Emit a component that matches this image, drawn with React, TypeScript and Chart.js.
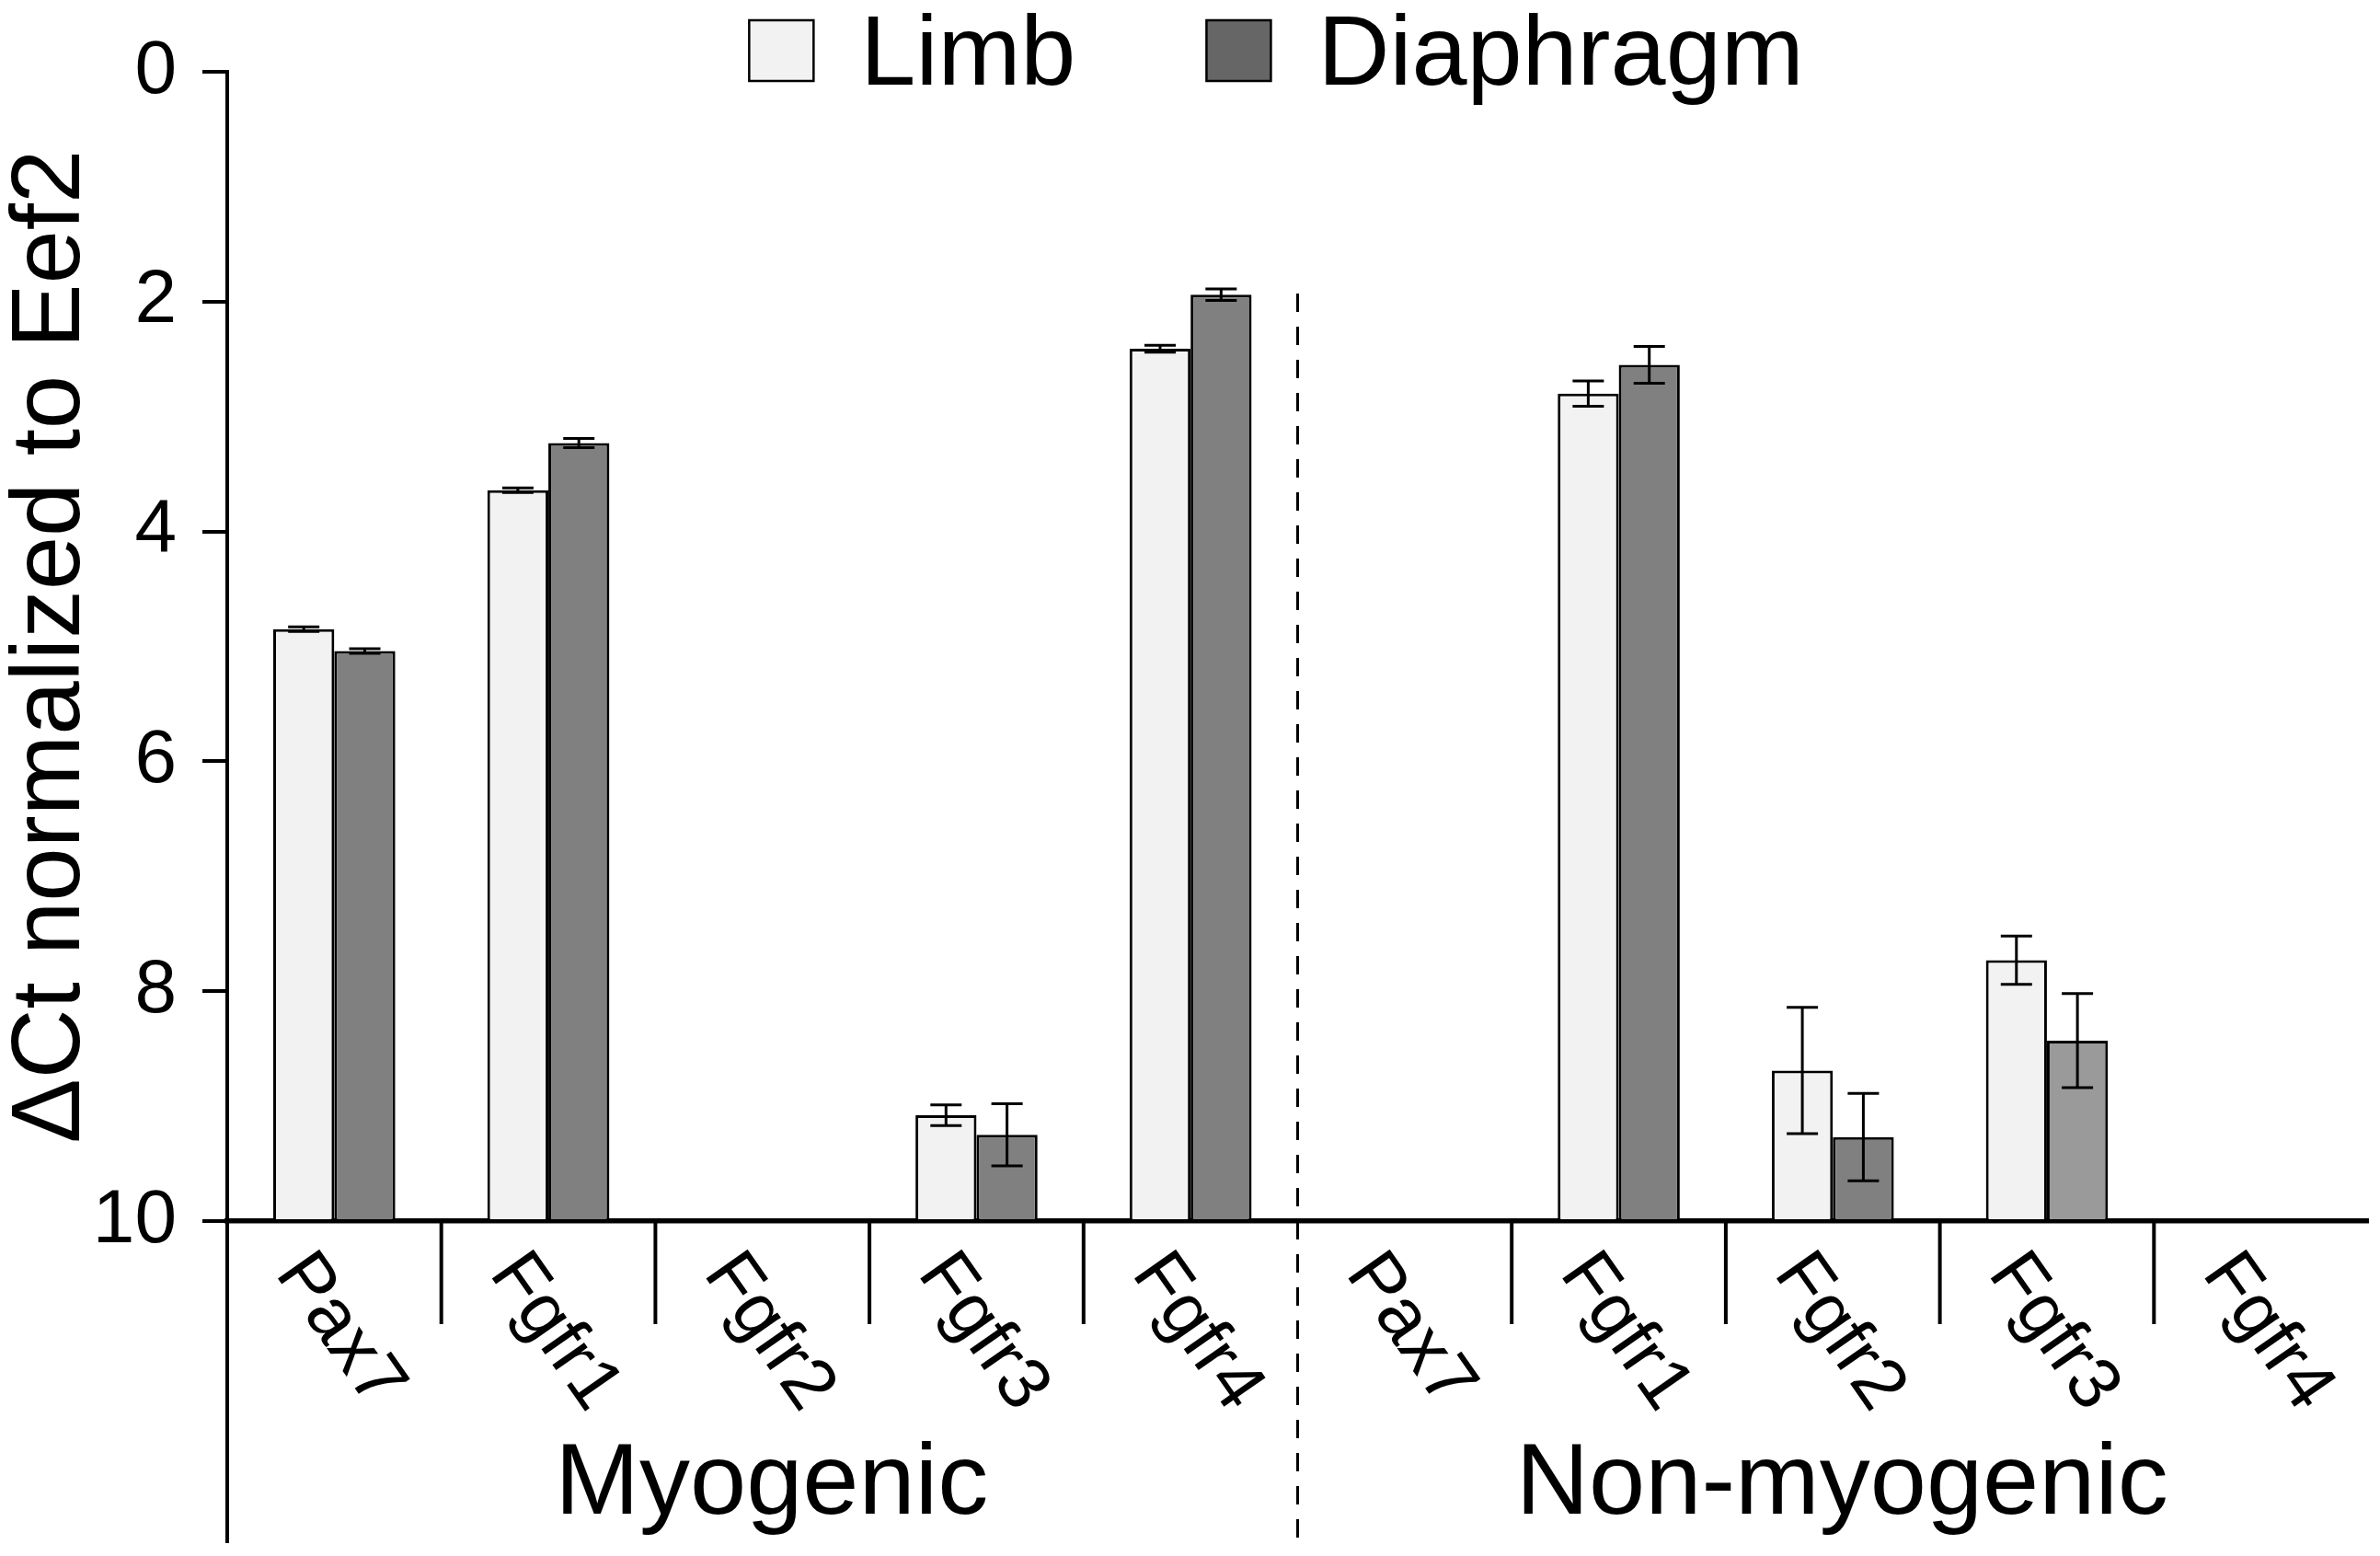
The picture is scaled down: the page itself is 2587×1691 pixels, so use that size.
import { useEffect, useRef } from "react";
import { Chart, registerables } from "chart.js";

Chart.register(...registerables);

const categories = ["Pax7", "Fgfr1", "Fgfr2", "Fgfr3", "Fgfr4", "Pax7", "Fgfr1", "Fgfr2", "Fgfr3", "Fgfr4"];
const groups = ["Myogenic", "Non-myogenic"];
const seriesNames = ["Limb", "Diaphragm"];

// ΔCt means and error (axis is reversed, 0 at the top)
const limbValues = [4.85, 3.64, null, 9.08, 2.41, null, 2.8, 8.69, 7.73, null];
const limbErrors = [0.02, 0.02, null, 0.09, 0.03, null, 0.11, 0.55, 0.21, null];
const diaphragmValues = [5.04, 3.23, null, 9.25, 1.94, null, 2.55, 9.27, 8.43, null];
const diaphragmErrors = [0.02, 0.04, null, 0.27, 0.05, null, 0.16, 0.38, 0.41, null];

const yMin = 0;
const yMax = 10;
const yStep = 2;

const FONT = "'Liberation Sans', Arial, Helvetica, sans-serif";
const limbColor = "#f2f2f2";
const diaphragmColor = "#808080";
const diaphragmColors = diaphragmValues.map((_, i) => (i === 8 ? "#9a9a9a" : diaphragmColor));
const legendColors = [limbColor, "#666666"];

const decorations = {
  id: "decorations",
  afterDatasetsDraw(chart: any) {
    const ctx = chart.ctx;
    const y = chart.scales.y;
    const errors = [limbErrors, diaphragmErrors];
    ctx.save();
    ctx.strokeStyle = "#000";
    ctx.lineWidth = 3;
    chart.data.datasets.forEach((ds: any, i: number) => {
      const meta = chart.getDatasetMeta(i);
      meta.data.forEach((bar: any, j: number) => {
        const v = ds.data[j];
        const e = errors[i][j];
        if (v == null || e == null) return;
        const x = bar.x;
        const y1 = y.getPixelForValue(v - e);
        const y2 = y.getPixelForValue(v + e);
        ctx.beginPath();
        ctx.moveTo(x, y1);
        ctx.lineTo(x, y2);
        ctx.moveTo(x - 17, y1);
        ctx.lineTo(x + 17, y1);
        ctx.moveTo(x - 17, y2);
        ctx.lineTo(x + 17, y2);
        ctx.stroke();
      });
    });
    ctx.restore();
  },
  afterDraw(chart: any) {
    const ctx = chart.ctx;
    const { left, right, top, bottom } = chart.chartArea;
    const x = chart.scales.x;
    ctx.save();
    ctx.strokeStyle = "#000";
    ctx.fillStyle = "#000";

    // left axis continues down through the label area
    ctx.lineWidth = 4;
    ctx.beginPath();
    ctx.moveTo(chart.scales.y.right, bottom);
    ctx.lineTo(chart.scales.y.right, bottom + 350);
    ctx.stroke();

    // category dividers, dashed line between groups
    for (let i = 1; i < categories.length; i++) {
      const bx = (x.getPixelForValue(i - 1) + x.getPixelForValue(i)) / 2;
      ctx.beginPath();
      if (i === 5) {
        ctx.lineWidth = 3;
        ctx.setLineDash([20, 16]);
        ctx.moveTo(bx, top + 241);
        ctx.lineTo(bx, bottom + 350);
      } else {
        ctx.lineWidth = 4;
        ctx.setLineDash([]);
        ctx.moveTo(bx, bottom);
        ctx.lineTo(bx, bottom + 112);
      }
      ctx.stroke();
    }
    ctx.setLineDash([]);

    // rotated gene labels
    ctx.font = `80px ${FONT}`;
    ctx.textAlign = "left";
    ctx.textBaseline = "alphabetic";
    categories.forEach((label, i) => {
      const cx = x.getPixelForValue(i);
      ctx.save();
      ctx.translate(cx - 65, bottom + 57);
      ctx.rotate((55 * Math.PI) / 180);
      ctx.fillText(label, 0, 0);
      ctx.restore();
    });

    // group labels
    ctx.font = `110px ${FONT}`;
    ctx.textAlign = "center";
    groups.forEach((g, gi) => {
      const cx = (x.getPixelForValue(gi * 5) + x.getPixelForValue(gi * 5 + 4)) / 2;
      ctx.fillText(g, cx + 10, bottom + 318);
    });

    // legend
    ctx.font = `108px ${FONT}`;
    ctx.textAlign = "left";
    const boxW = 70;
    const boxH = 66;
    const gap = 51;
    const itemGap = 142;
    const widths = seriesNames.map((n) => ctx.measureText(n).width);
    const total = widths.reduce((a, w) => a + boxW + gap + w, 0) + itemGap * (seriesNames.length - 1);
    let lx = (left + right) / 2 - 23 - total / 2;
    seriesNames.forEach((name, i) => {
      ctx.fillStyle = legendColors[i];
      ctx.fillRect(lx, 22, boxW, boxH);
      ctx.lineWidth = 2.5;
      ctx.strokeStyle = "#000";
      ctx.strokeRect(lx, 22, boxW, boxH);
      ctx.fillStyle = "#000";
      ctx.fillText(name, lx + boxW + gap, 92);
      lx += boxW + gap + widths[i] + itemGap;
    });

    ctx.restore();
  },
};

function BarChart() {
  const canvasRef = useRef<HTMLCanvasElement>(null);
  const chartRef = useRef<Chart | null>(null);

  useEffect(() => {
    if (!canvasRef.current) return;
    if (chartRef.current) chartRef.current.destroy();

    chartRef.current = new Chart(canvasRef.current, {
      type: "bar",
      data: {
        labels: categories,
        datasets: [
          {
            label: seriesNames[0],
            data: limbValues,
            base: yMax,
            backgroundColor: limbColor,
            borderColor: "#000",
            borderWidth: 3,
          },
          {
            label: seriesNames[1],
            data: diaphragmValues,
            base: yMax,
            backgroundColor: diaphragmColors,
            borderColor: "#000",
            borderWidth: 3,
          },
        ] as any,
      },
      options: {
        animation: false,
        responsive: true,
        maintainAspectRatio: false,
        layout: { padding: { top: 78, right: 13, bottom: 356, left: 0 } },
        datasets: { bar: { categoryPercentage: 0.57, barPercentage: 1 } },
        plugins: {
          legend: { display: false },
          tooltip: { enabled: false },
        },
        scales: {
          x: {
            grid: { display: false },
            ticks: { display: false },
            border: { display: true, color: "#000", width: 5.5 },
          },
          y: {
            reverse: true,
            min: yMin,
            max: yMax,
            afterFit: (scale: any) => {
              scale.width = 247;
            },
            ticks: {
              stepSize: yStep,
              color: "#000",
              padding: 28,
              font: { family: FONT, size: 82 },
            },
            grid: {
              drawOnChartArea: false,
              drawTicks: true,
              tickLength: 27,
              lineWidth: 4,
              color: "#000",
            },
            border: { display: true, color: "#000", width: 4 },
            title: {
              display: true,
              text: "ΔCt normalized to Eef2",
              color: "#000",
              padding: 0,
              font: { family: FONT, size: 105, lineHeight: 1.08 },
            },
          },
        },
      },
      plugins: [decorations],
    });

    return () => {
      if (chartRef.current) {
        chartRef.current.destroy();
        chartRef.current = null;
      }
    };
  }, []);

  return (
    <div style={{ position: "absolute", left: 0, top: 0, width: 2587, height: 1691, background: "#fff" }}>
      <canvas ref={canvasRef}></canvas>
    </div>
  );
}

export default function App() {
  return <BarChart />;
}
